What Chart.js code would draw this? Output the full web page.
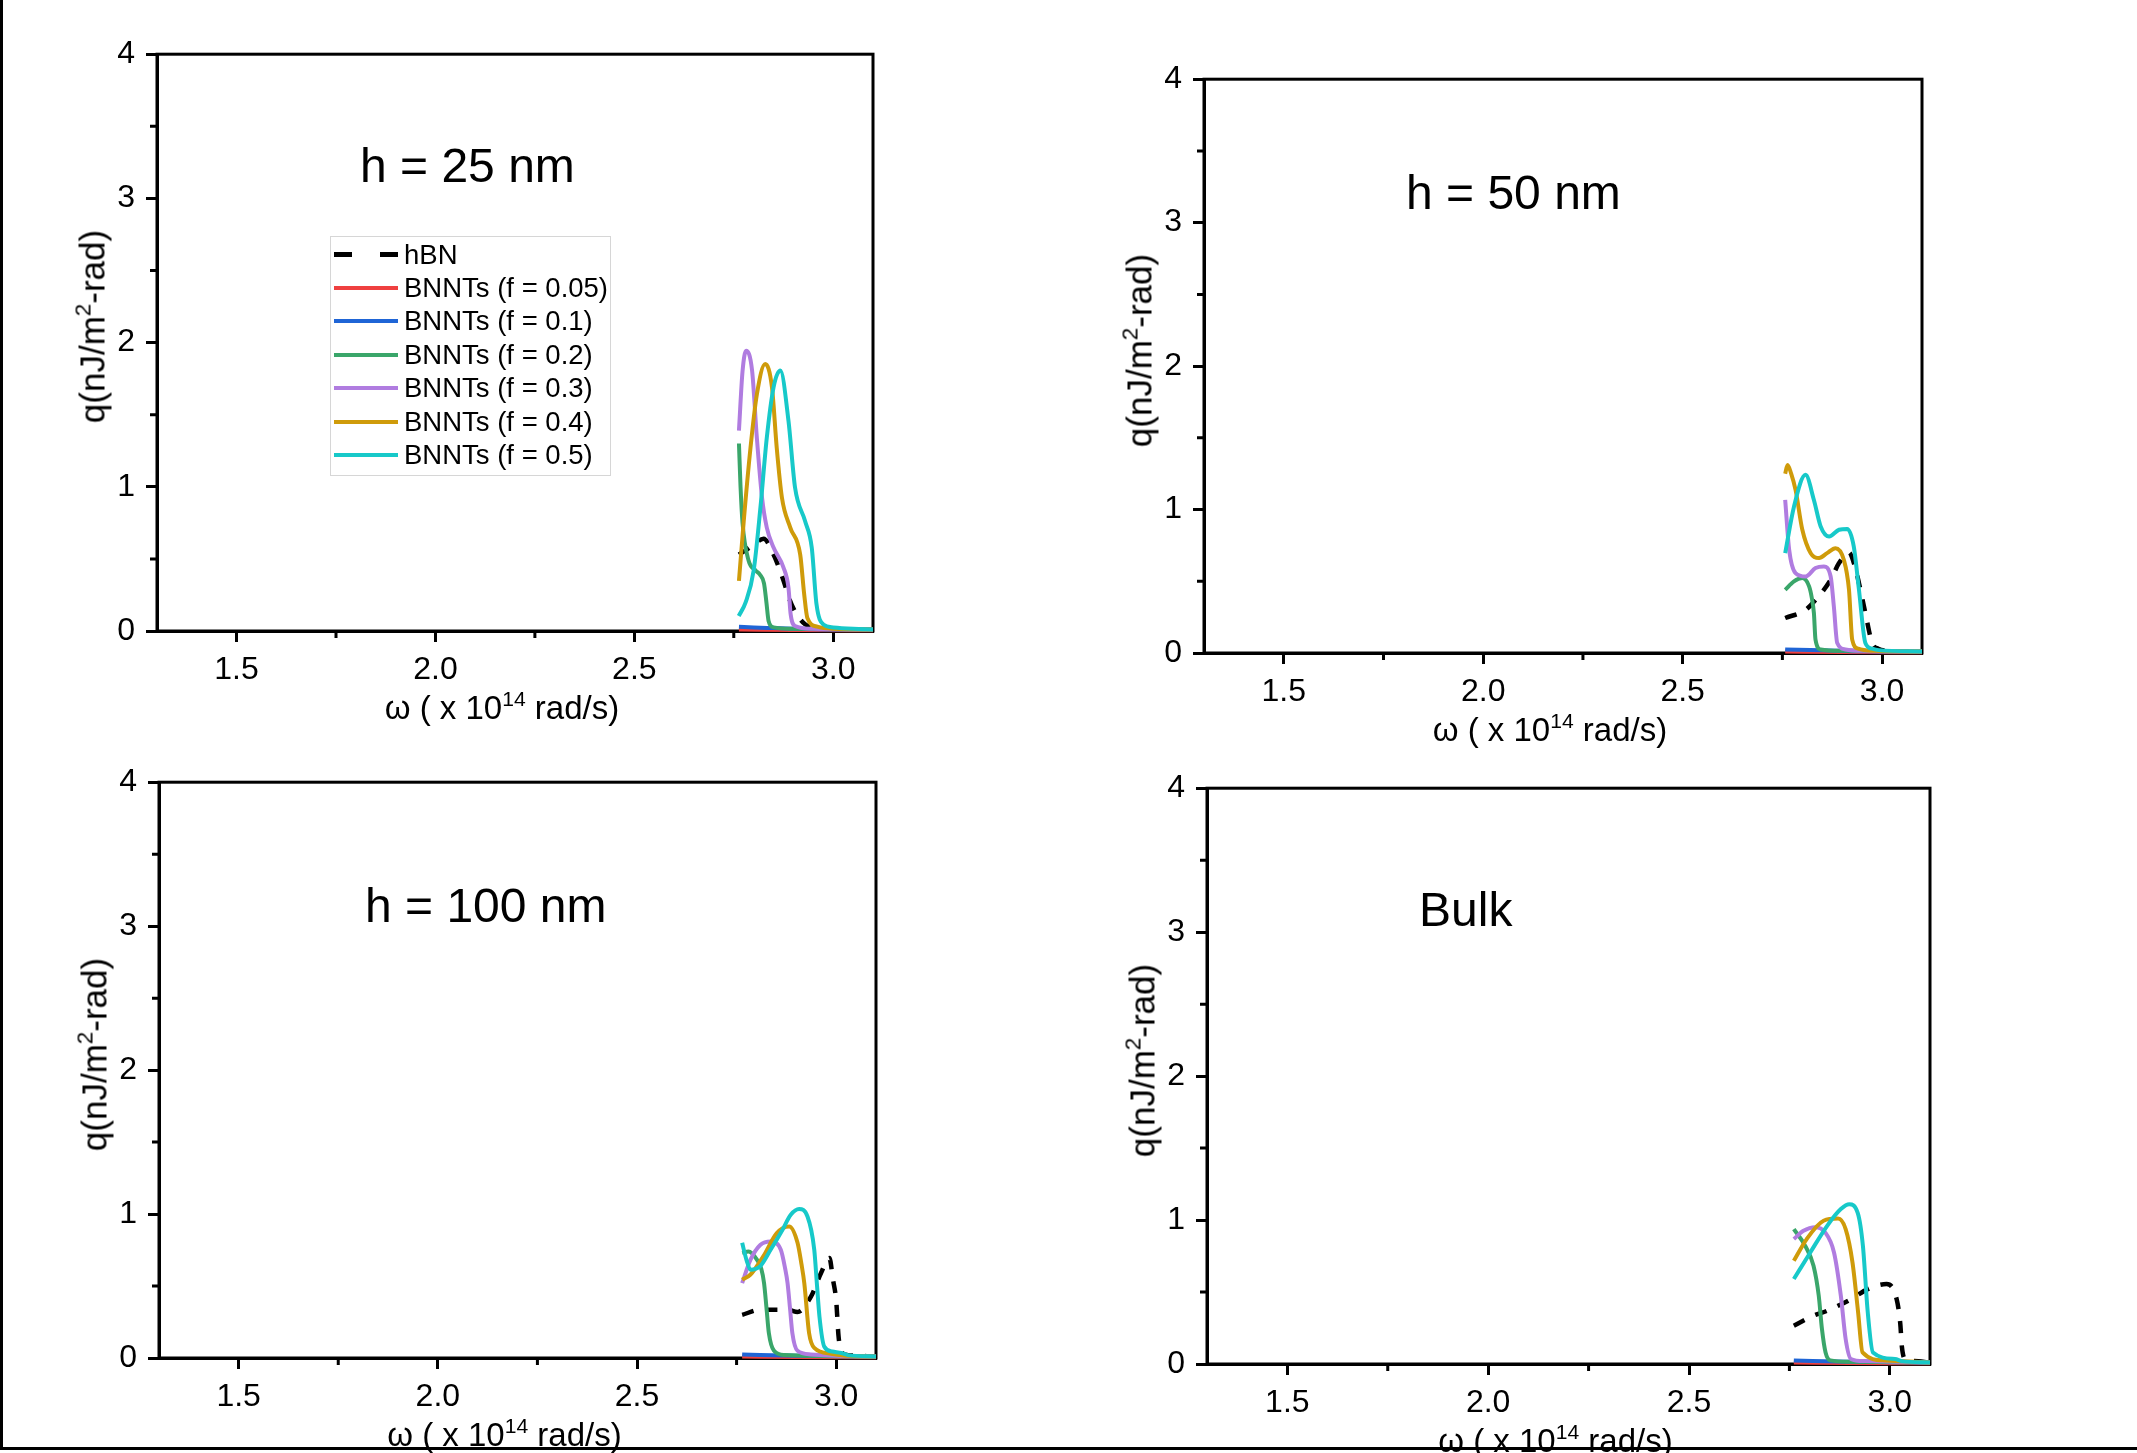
<!DOCTYPE html>
<html>
<head>
<meta charset="utf-8">
<script src="https://cdn.jsdelivr.net/npm/chart.js@4.4.1/dist/chart.umd.min.js"></script>
<style>
  body { margin:0; width:2137px; height:1453px; background:#fff; overflow:hidden; position:relative;
         font-family:"Liberation Sans", Arial, sans-serif; color:#000; }
  canvas { position:absolute; }
  .txt { position:absolute; white-space:nowrap; line-height:1; }
  .sup { font-size:0.64em; vertical-align:0.62em; }
  .frameL { position:absolute; left:0; top:0; width:3px; height:1450px; background:#000; }
  .frameB { position:absolute; left:0; top:1447px; width:2137px; height:3px; background:#000; }
  .legend { position:absolute; left:330px; top:236px; width:279px; height:237px; border:1px solid #d6d6d6; padding-top:1px; }
  .row { display:flex; align-items:center; height:33.4px; font-size:27.5px; }
  .sample { width:64px; height:0; margin-left:3px; margin-right:6px; border-top:4.5px solid; }
  .dash { display:flex; justify-content:space-between; width:64px; margin-left:3px; margin-right:6px; }
  .dash span { width:18px; height:4.5px; background:#000; }
</style>
</head>
<body>
<div class="frameL"></div>
<div class="frameB"></div>
<script>
const seriesLabels = ['hBN', 'BNNTs (f = 0.05)', 'BNNTs (f = 0.1)', 'BNNTs (f = 0.2)', 'BNNTs (f = 0.3)', 'BNNTs (f = 0.4)', 'BNNTs (f = 0.5)'];
const seriesColors = ['#000000', '#ef4040', '#1f65d6', '#3aa66a', '#b07ce0', '#cf9b0a', '#17c9c9'];
const panelTitles = ['h = 25 nm', 'h = 50 nm', 'h = 100 nm', 'Bulk'];

const xMajor = [1.5, 2.0, 2.5, 3.0];
const xMinor = [1.75, 2.25, 2.75];
const yMajor = [0, 1, 2, 3, 4];
const yMinor = [0.5, 1.5, 2.5, 3.5];

// h = 25 nm   [omega (x 1e14 rad/s), q (nJ/m2-rad)]
const h25Hbn = [[2.763,0.53],[2.78,0.56],[2.80,0.60],[2.825,0.64],[2.85,0.53],[2.875,0.35],[2.89,0.22],[2.905,0.13],[2.93,0.045],[2.96,0.02],[3.0,0.012],[3.1,0.01]];
const h25F005 = [[2.763,0.01],[2.9,0.007],[3.1,0.005]];
const h25F01 = [[2.763,0.03],[2.8,0.025],[2.85,0.02],[2.9,0.015],[3.0,0.01],[3.1,0.01]];
const h25F02 = [[2.763,1.3],[2.767,1.0],[2.772,0.75],[2.787,0.49],[2.805,0.42],[2.816,0.39],[2.826,0.33],[2.832,0.2],[2.8375,0.07],[2.85,0.025],[2.9,0.015],[3.1,0.01]];
const h25F03 = [[2.763,1.39],[2.772,1.8],[2.781,1.944],[2.796,1.806],[2.808,1.34],[2.821,0.926],[2.833,0.717],[2.85,0.579],[2.875,0.44],[2.8875,0.30],[2.893,0.116],[2.904,0.035],[2.95,0.015],[3.1,0.01]];
const h25F04 = [[2.763,0.347],[2.775,0.76],[2.792,1.27],[2.808,1.64],[2.829,1.852],[2.846,1.69],[2.858,1.27],[2.871,0.926],[2.892,0.717],[2.917,0.53],[2.927,0.255],[2.935,0.09],[2.96,0.03],[3.0,0.015],[3.1,0.01]];
const h25F05 = [[2.7625,0.104],[2.78,0.2],[2.8,0.42],[2.817,0.856],[2.833,1.34],[2.85,1.69],[2.867,1.806],[2.8875,1.458],[2.904,0.995],[2.929,0.764],[2.946,0.579],[2.958,0.185],[2.975,0.046],[3.0,0.025],[3.05,0.015],[3.1,0.01]];

// h = 50 nm
const h50Hbn = [[2.757,0.244],[2.808,0.30],[2.833,0.37],[2.871,0.51],[2.892,0.627],[2.917,0.70],[2.93,0.62],[2.942,0.487],[2.958,0.279],[2.975,0.07],[2.99,0.03],[3.02,0.015],[3.1,0.01]];
const h50F005 = [[2.757,0.01],[2.9,0.007],[3.1,0.005]];
const h50F01 = [[2.757,0.025],[2.85,0.02],[2.95,0.012],[3.1,0.01]];
const h50F02 = [[2.757,0.44],[2.779,0.499],[2.8,0.522],[2.817,0.464],[2.824,0.38],[2.829,0.279],[2.833,0.093],[2.846,0.025],[2.9,0.015],[3.1,0.01]];
const h50F03 = [[2.757,1.067],[2.767,0.72],[2.783,0.557],[2.808,0.533],[2.833,0.592],[2.854,0.603],[2.871,0.533],[2.879,0.325],[2.8875,0.07],[2.908,0.025],[2.95,0.015],[3.1,0.01]];
const h50F04 = [[2.757,1.25],[2.763,1.31],[2.772,1.25],[2.783,1.137],[2.8,0.859],[2.821,0.696],[2.842,0.662],[2.862,0.696],[2.883,0.731],[2.904,0.65],[2.917,0.44],[2.925,0.093],[2.94,0.03],[2.98,0.015],[3.1,0.01]];
const h50F05 = [[2.757,0.696],[2.779,1.02],[2.808,1.242],[2.829,1.067],[2.846,0.882],[2.867,0.812],[2.892,0.859],[2.9125,0.865],[2.929,0.742],[2.942,0.44],[2.958,0.07],[2.975,0.03],[2.992,0.02],[3.1,0.01]];

// h = 100 nm
const h100Hbn = [[2.764,0.30],[2.81,0.335],[2.878,0.335],[2.903,0.32],[2.937,0.428],[2.962,0.59],[2.983,0.694],[2.992,0.544],[3.0,0.4],[3.006,0.15],[3.013,0.04],[3.03,0.02],[3.1,0.01]];
const h100F005 = [[2.764,0.01],[2.9,0.007],[3.1,0.005]];
const h100F01 = [[2.764,0.025],[2.9,0.015],[3.1,0.01]];
const h100F02 = [[2.764,0.73],[2.78,0.74],[2.801,0.683],[2.812,0.62],[2.819,0.52],[2.825,0.35],[2.831,0.174],[2.844,0.05],[2.87,0.02],[3.1,0.01]];
const h100F03 = [[2.764,0.52],[2.785,0.683],[2.81,0.787],[2.835,0.81],[2.861,0.752],[2.872,0.62],[2.878,0.52],[2.884,0.35],[2.89,0.174],[2.903,0.05],[2.936,0.025],[3.0,0.015],[3.1,0.01]];
const h100F04 = [[2.764,0.544],[2.785,0.58],[2.817,0.706],[2.851,0.868],[2.882,0.914],[2.903,0.8],[2.913,0.65],[2.92,0.52],[2.932,0.174],[2.945,0.07],[2.987,0.03],[3.03,0.015],[3.1,0.01]];
const h100F05 = [[2.764,0.80],[2.775,0.68],[2.785,0.613],[2.81,0.64],[2.835,0.75],[2.865,0.89],[2.886,0.995],[2.907,1.035],[2.928,0.983],[2.945,0.752],[2.952,0.5],[2.958,0.289],[2.97,0.08],[2.99,0.045],[3.013,0.035],[3.03,0.02],[3.1,0.01]];

// bulk
const bulkHbn = [[2.761,0.266],[2.81,0.336],[2.844,0.37],[2.903,0.45],[2.945,0.52],[2.992,0.555],[3.017,0.45],[3.026,0.28],[3.03,0.12],[3.039,0.03],[3.06,0.02],[3.1,0.01]];
const bulkF005 = [[2.761,0.01],[2.9,0.007],[3.1,0.005]];
const bulkF01 = [[2.761,0.025],[2.9,0.015],[3.1,0.01]];
const bulkF02 = [[2.761,0.937],[2.789,0.822],[2.81,0.683],[2.823,0.475],[2.831,0.243],[2.84,0.08],[2.852,0.025],[2.9,0.015],[3.1,0.01]];
const bulkF03 = [[2.761,0.868],[2.785,0.925],[2.814,0.95],[2.839,0.914],[2.861,0.775],[2.878,0.475],[2.89,0.174],[2.903,0.035],[2.937,0.02],[3.1,0.01]];
const bulkF04 = [[2.761,0.717],[2.793,0.868],[2.835,0.995],[2.871,1.01],[2.89,0.937],[2.907,0.706],[2.921,0.36],[2.932,0.08],[2.987,0.025],[3.1,0.01]];
const bulkF05 = [[2.761,0.59],[2.802,0.775],[2.844,0.96],[2.878,1.076],[2.899,1.11],[2.92,1.05],[2.933,0.82],[2.945,0.36],[2.958,0.08],[3.013,0.035],[3.03,0.02],[3.1,0.01]];

const panelSeries = [
  [h25Hbn, h25F005, h25F01, h25F02, h25F03, h25F04, h25F05],
  [h50Hbn, h50F005, h50F01, h50F02, h50F03, h50F04, h50F05],
  [h100Hbn, h100F005, h100F01, h100F02, h100F03, h100F04, h100F05],
  [bulkHbn, bulkF005, bulkF01, bulkF02, bulkF03, bulkF04, bulkF05]
];

// plot boxes in page pixels
const boxes = [
  {l:157, t:54, r:873, b:631},
  {l:1204, t:79, r:1922, b:653},
  {l:159, t:782, r:876, b:1358},
  {l:1207, t:788, r:1930, b:1364}
];
const titlePos = [{x:360, base:183}, {x:1406, base:210}, {x:365, base:923}, {x:1419, base:927}];
const padL = 90, padT = 30, padR = 30, padB = 75;

Chart.defaults.font.family = '"Liberation Sans", Arial, sans-serif';
Chart.defaults.color = '#000';

const frameAndMinor = {
  id: 'frameAndMinor',
  beforeDatasetsDraw(chart) {
    const {ctx, chartArea: a, scales: {x, y}} = chart;
    ctx.save();
    ctx.strokeStyle = '#000';
    ctx.lineWidth = 3;
    ctx.strokeRect(a.left, a.top, a.right - a.left, a.bottom - a.top);
    ctx.beginPath();
    for (let v of xMinor) { const px = x.getPixelForValue(v); ctx.moveTo(px, a.bottom); ctx.lineTo(px, a.bottom + 7); }
    for (let v of yMinor) { const py = y.getPixelForValue(v); ctx.moveTo(a.left, py); ctx.lineTo(a.left - 7, py); }
    ctx.stroke();
    ctx.restore();
  }
};

const addText = (html, left, top, size, extra) => {
  const d = document.createElement('div');
  d.className = 'txt';
  d.innerHTML = html;
  d.style.left = left + 'px';
  d.style.top = top + 'px';
  d.style.fontSize = size + 'px';
  if (extra) Object.assign(d.style, extra);
  document.body.appendChild(d);
  return d;
}

const makeChart = (i) => {
  const bx = boxes[i];
  const cv = document.createElement('canvas');
  cv.width = bx.r - bx.l + padL + padR;
  cv.height = bx.b - bx.t + padT + padB;
  cv.style.left = (bx.l - padL) + 'px';
  cv.style.top = (bx.t - padT) + 'px';
  document.body.appendChild(cv);

  const datasets = panelSeries[i].map((pts, k) => ({
    label: seriesLabels[k],
    data: pts.map(p => ({x: p[0], y: p[1]})),
    borderColor: seriesColors[k],
    borderWidth: k == 0 ? 4.5 : 4,
    borderDash: k == 0 ? [12, 12] : [],
    pointRadius: 0,
    cubicInterpolationMode: 'monotone',
    fill: false,
    clip: false,
    order: 6 - k
  }));

  new Chart(cv.getContext('2d'), {
    type: 'line',
    data: {datasets: datasets},
    options: {
      responsive: false,
      animation: false,
      devicePixelRatio: 1,
      layout: {padding: {left: 0, top: padT, right: padR, bottom: 0}},
      plugins: {legend: {display: false}, tooltip: {enabled: false}},
      scales: {
        x: {
          type: 'linear', min: 1.3, max: 3.1,
          afterBuildTicks: (s) => { s.ticks = xMajor.map(v => ({value: v})); },
          afterFit: (s) => { s.height = padB; },
          ticks: {font: {size: 32}, padding: 9, maxRotation: 0, callback: (v) => Number(v).toFixed(1)},
          grid: {drawOnChartArea: false, drawTicks: true, tickLength: 11, tickWidth: 3, tickColor: '#000'},
          border: {display: true, color: '#000', width: 3}
        },
        y: {
          type: 'linear', min: 0, max: 4,
          afterBuildTicks: (s) => { s.ticks = yMajor.map(v => ({value: v})); },
          afterFit: (s) => { s.width = padL; },
          ticks: {font: {size: 32}, padding: 11, callback: (v) => String(v)},
          grid: {drawOnChartArea: false, drawTicks: true, tickLength: 11, tickWidth: 3, tickColor: '#000'},
          border: {display: true, color: '#000', width: 3}
        }
      }
    },
    plugins: [frameAndMinor]
  });

  // axis titles and panel label
  addText('ω ( x 10<span class="sup">14</span> rad/s)', (bx.l + bx.r) / 2 - 13 - 300, bx.b + 84.5 - 27.9, 33,
    {width: '600px', textAlign: 'center'});
  const cy = (bx.t + bx.b) / 2 - 16;
  addText('q(nJ/m<span class="sup">2</span>-rad)', bx.l - 67 - 200, cy - 17.5, 35,
    {width: '400px', height: '35px', textAlign: 'center', transform: 'rotate(-90deg)', transformOrigin: '50% 50%'});
  addText(panelTitles[i], titlePos[i].x, titlePos[i].base - 40.6, 48);
}

for (let i = 0; i < 4; ++i) makeChart(i);

// legend of the first panel
const legend = document.createElement('div');
legend.className = 'legend';
seriesLabels.forEach((lab, k) => {
  const row = document.createElement('div');
  row.className = 'row';
  const sample = k == 0
    ? '<div class="dash"><span></span><span></span></div>'
    : `<div class="sample" style="border-color:${seriesColors[k]}"></div>`;
  row.innerHTML = sample + '<span>' + lab + '</span>';
  legend.appendChild(row);
});
document.body.appendChild(legend);
</script>
</body>
</html>
